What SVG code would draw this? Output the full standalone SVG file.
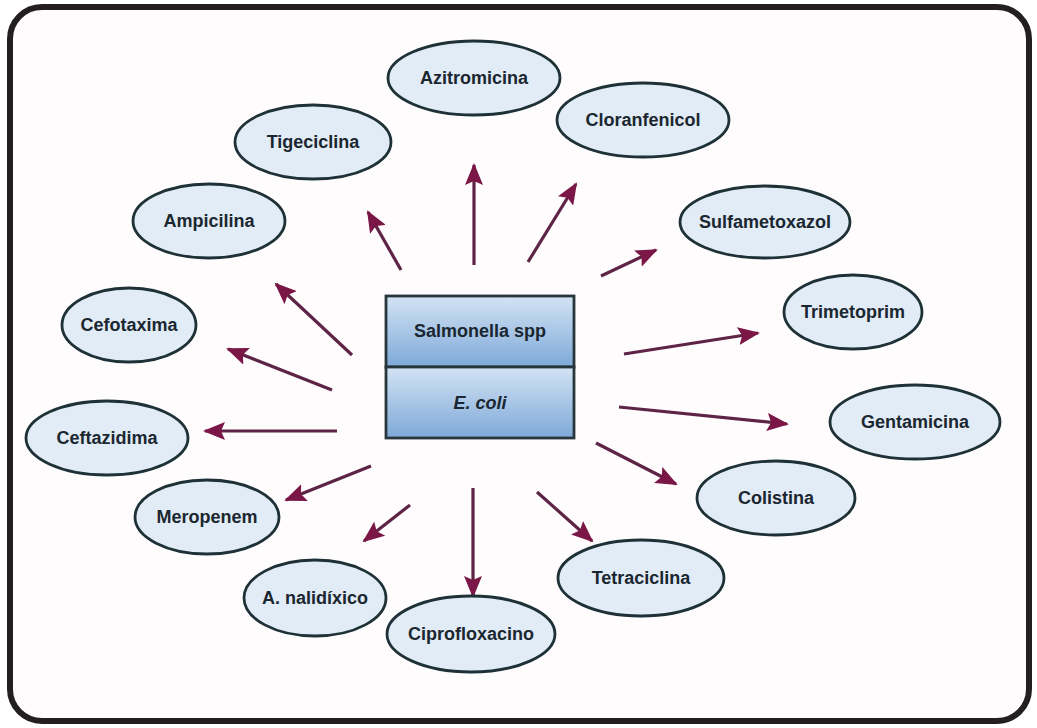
<svg xmlns="http://www.w3.org/2000/svg" width="1037" height="728" viewBox="0 0 1037 728">
  <defs>
    <linearGradient id="cellFill" x1="0" y1="0" x2="0" y2="1">
      <stop offset="0" stop-color="#d3e3f4"/>
      <stop offset="1" stop-color="#7ea9d8"/>
    </linearGradient>
    <marker id="head" markerUnits="userSpaceOnUse" markerWidth="22" markerHeight="18" refX="20" refY="9" orient="auto" viewBox="0 0 22 18">
      <path d="M0,0 L22,9 L0,18 L4,9 Z" fill="#7a1747"/>
    </marker>
    <style>
      .node ellipse { fill: #e2ecf6; stroke: #1d3136; stroke-width: 2.8; }
      .node text { font-family: "Liberation Sans", Arial, sans-serif; font-weight: bold; font-size: 18px; fill: #1b2730; text-anchor: middle; dominant-baseline: central; }
      .cell rect { fill: url(#cellFill); stroke: #26363b; stroke-width: 2.8; }
      .cell text { font-family: "Liberation Sans", Arial, sans-serif; font-weight: bold; font-size: 18px; fill: #1b2730; text-anchor: middle; dominant-baseline: central; }
      #connectors line { stroke: #5e2446; stroke-width: 3.2; marker-end: url(#head); }
    </style>
  </defs>

  <rect width="1037" height="728" fill="#ffffff"/>
  <!-- outer frame -->
  <rect x="10" y="7" width="1019" height="714" rx="32" ry="32" fill="#fffcfd" stroke="#231f20" stroke-width="6"/>

  <!-- central bacteria block -->
  <g id="salmonella" class="cell">
    <rect x="386" y="296" width="188" height="71"/>
    <text x="480" y="331">Salmonella spp</text>
  </g>
  <g id="ecoli" class="cell">
    <rect x="386" y="367" width="188" height="71"/>
    <text x="480" y="403" font-style="italic">E. coli</text>
  </g>

  <!-- antibiotic connectors -->
  <g id="connectors">
    <line x1="474" y1="265" x2="474" y2="165"/>
    <line x1="528" y1="262" x2="576" y2="184"/>
    <line x1="401" y1="270" x2="368" y2="212"/>
    <line x1="601" y1="276" x2="656" y2="250"/>
    <line x1="352" y1="355" x2="276" y2="284"/>
    <line x1="624" y1="354" x2="758" y2="333"/>
    <line x1="332" y1="390" x2="228" y2="349"/>
    <line x1="619" y1="407" x2="787" y2="424"/>
    <line x1="337" y1="431" x2="205" y2="431"/>
    <line x1="596" y1="443" x2="676" y2="484"/>
    <line x1="371" y1="466" x2="286" y2="500"/>
    <line x1="410" y1="505" x2="364" y2="541"/>
    <line x1="473" y1="488" x2="473" y2="596"/>
    <line x1="537" y1="492" x2="592" y2="541"/>
  </g>

  <!-- antibiotic nodes -->
  <g id="azitromicina" class="node"><ellipse cx="474" cy="78" rx="86" ry="37"/><text x="474" y="78">Azitromicina</text></g>
  <g id="cloranfenicol" class="node"><ellipse cx="643" cy="120" rx="86" ry="37"/><text x="643" y="120">Cloranfenicol</text></g>
  <g id="tigeciclina" class="node"><ellipse cx="313" cy="142" rx="78" ry="37"/><text x="313" y="142">Tigeciclina</text></g>
  <g id="ampicilina" class="node"><ellipse cx="209" cy="221" rx="76" ry="37"/><text x="209" y="221">Ampicilina</text></g>
  <g id="sulfametoxazol" class="node"><ellipse cx="765" cy="222" rx="85" ry="36"/><text x="765" y="222">Sulfametoxazol</text></g>
  <g id="trimetoprim" class="node"><ellipse cx="853" cy="312" rx="69" ry="37"/><text x="853" y="312">Trimetoprim</text></g>
  <g id="cefotaxima" class="node"><ellipse cx="129" cy="325" rx="67" ry="37"/><text x="129" y="325">Cefotaxima</text></g>
  <g id="gentamicina" class="node"><ellipse cx="915" cy="422" rx="85" ry="37"/><text x="915" y="422">Gentamicina</text></g>
  <g id="ceftazidima" class="node"><ellipse cx="107" cy="438" rx="81" ry="37"/><text x="107" y="438">Ceftazidima</text></g>
  <g id="colistina" class="node"><ellipse cx="776" cy="498" rx="79" ry="37"/><text x="776" y="498">Colistina</text></g>
  <g id="meropenem" class="node"><ellipse cx="207" cy="517" rx="72" ry="37"/><text x="207" y="517">Meropenem</text></g>
  <g id="tetraciclina" class="node"><ellipse cx="641" cy="578" rx="83" ry="38"/><text x="641" y="578">Tetraciclina</text></g>
  <g id="nalidixico" class="node"><ellipse cx="315" cy="598" rx="71" ry="38"/><text x="315" y="598">A. nalidíxico</text></g>
  <g id="ciprofloxacino" class="node"><ellipse cx="471" cy="634" rx="84" ry="38"/><text x="471" y="634">Ciprofloxacino</text></g>
</svg>
